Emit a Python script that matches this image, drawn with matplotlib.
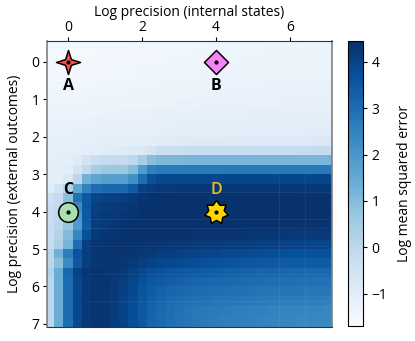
import matplotlib
matplotlib.use("Agg")
import matplotlib.pyplot as plt
from matplotlib.path import Path
import numpy as np

plt.rcParams['font.family'] = ['Open Sans', 'DejaVu Sans']

# log mean squared error, rows go from y=-0.625 to y=7.125, cols from x=-0.5 to x=7
row00 = [-1.62,-1.62,-1.62,-1.62,-1.61,-1.60,-1.60,-1.59,-1.58,-1.57,-1.56,-1.55,-1.54,-1.53,-1.52,-1.51,-1.50,-1.49,-1.48,-1.47,-1.46,-1.45,-1.44,-1.43,-1.42,-1.42,-1.41,-1.41,-1.40,-1.40,-1.40]
row01 = [-1.60,-1.60,-1.60,-1.60,-1.59,-1.58,-1.58,-1.57,-1.56,-1.55,-1.54,-1.53,-1.52,-1.51,-1.50,-1.49,-1.48,-1.47,-1.46,-1.45,-1.44,-1.43,-1.42,-1.41,-1.40,-1.40,-1.39,-1.39,-1.38,-1.38,-1.38]
row02 = [-1.58,-1.58,-1.58,-1.57,-1.57,-1.56,-1.55,-1.54,-1.53,-1.52,-1.51,-1.50,-1.49,-1.48,-1.47,-1.46,-1.45,-1.44,-1.43,-1.42,-1.41,-1.40,-1.40,-1.39,-1.38,-1.38,-1.37,-1.37,-1.36,-1.36,-1.36]
row03 = [-1.56,-1.56,-1.56,-1.55,-1.55,-1.54,-1.53,-1.52,-1.51,-1.50,-1.49,-1.48,-1.47,-1.46,-1.45,-1.44,-1.43,-1.42,-1.41,-1.40,-1.39,-1.38,-1.38,-1.37,-1.36,-1.36,-1.35,-1.35,-1.34,-1.34,-1.34]
row04 = [-1.52,-1.52,-1.52,-1.51,-1.51,-1.50,-1.49,-1.48,-1.47,-1.46,-1.45,-1.44,-1.43,-1.42,-1.41,-1.40,-1.39,-1.38,-1.37,-1.36,-1.35,-1.35,-1.34,-1.33,-1.33,-1.32,-1.32,-1.31,-1.31,-1.30,-1.30]
row05 = [-1.48,-1.48,-1.48,-1.47,-1.47,-1.46,-1.45,-1.44,-1.43,-1.42,-1.41,-1.40,-1.39,-1.38,-1.37,-1.36,-1.35,-1.34,-1.33,-1.32,-1.32,-1.31,-1.30,-1.30,-1.29,-1.29,-1.28,-1.28,-1.27,-1.27,-1.27]
row06 = [-1.44,-1.44,-1.44,-1.43,-1.43,-1.42,-1.41,-1.40,-1.39,-1.38,-1.37,-1.36,-1.35,-1.34,-1.33,-1.32,-1.31,-1.30,-1.29,-1.29,-1.28,-1.27,-1.27,-1.26,-1.26,-1.25,-1.25,-1.24,-1.24,-1.24,-1.24]
row07 = [-1.40,-1.40,-1.40,-1.39,-1.39,-1.38,-1.37,-1.36,-1.35,-1.34,-1.33,-1.32,-1.31,-1.30,-1.29,-1.28,-1.27,-1.26,-1.26,-1.25,-1.24,-1.24,-1.23,-1.23,-1.22,-1.22,-1.21,-1.21,-1.20,-1.20,-1.20]
row08 = [-1.34,-1.34,-1.34,-1.33,-1.33,-1.32,-1.31,-1.30,-1.29,-1.28,-1.27,-1.26,-1.25,-1.24,-1.23,-1.22,-1.21,-1.20,-1.20,-1.19,-1.18,-1.18,-1.17,-1.17,-1.16,-1.16,-1.15,-1.15,-1.14,-1.14,-1.14]
row09 = [-1.28,-1.28,-1.28,-1.27,-1.27,-1.26,-1.25,-1.24,-1.23,-1.22,-1.21,-1.20,-1.19,-1.18,-1.17,-1.16,-1.15,-1.14,-1.14,-1.13,-1.12,-1.12,-1.11,-1.11,-1.10,-1.10,-1.09,-1.09,-1.08,-1.08,-1.08]
row10 = [-1.22,-1.22,-1.22,-1.21,-1.21,-1.20,-1.19,-1.18,-1.17,-1.16,-1.15,-1.14,-1.13,-1.12,-1.11,-1.10,-1.09,-1.08,-1.08,-1.07,-1.06,-1.06,-1.05,-1.05,-1.04,-1.04,-1.03,-1.03,-1.02,-1.02,-1.02]
row11 = [-1.18,-1.18,-1.18,-1.17,-1.16,-1.14,-1.12,-1.10,-1.09,-1.07,-1.05,-1.03,-0.98,-0.96,-0.95,-0.94,-0.93,-0.92,-0.91,-0.90,-0.90,-0.89,-0.89,-0.88,-0.88,-0.87,-0.87,-0.86,-0.86,-0.85,-0.85]
row12 = [-1.15,-1.15,-1.15,-1.13,-1.08,-1.04,-0.98,-0.96,-0.95,-0.92,-0.85,-0.60,-0.36,-0.33,-0.31,-0.30,-0.29,-0.28,-0.27,-0.26,-0.25,-0.24,-0.24,-0.23,-0.23,-0.22,-0.22,-0.21,-0.21,-0.20,-0.20]
row13 = [-1.15,-1.14,-1.10,-0.95,-0.60,-0.35,-0.22,-0.15,-0.20,-0.05,0.45,0.90,1.10,1.12,1.13,1.14,1.14,1.15,1.15,1.15,1.16,1.16,1.16,1.17,1.17,1.17,1.18,1.18,1.18,1.18,1.18]
row14 = [-1.15,-1.10,-1.00,-0.60,-0.10,0.40,0.60,0.65,0.65,0.95,1.85,2.55,2.65,2.66,2.67,2.68,2.68,2.69,2.69,2.70,2.70,2.70,2.71,2.71,2.71,2.72,2.72,2.72,2.72,2.72,2.72]
row15 = [-1.15,-1.10,-0.85,0.05,1.30,1.60,1.75,1.80,1.80,2.15,3.00,3.65,3.85,3.86,3.87,3.88,3.88,3.89,3.89,3.90,3.90,3.90,3.90,3.90,3.90,3.90,3.90,3.90,3.90,3.90,3.90]
row16 = [-1.00,-0.55,0.15,1.60,2.50,3.00,3.10,3.15,3.15,3.45,4.00,4.15,4.22,4.23,4.24,4.25,4.25,4.26,4.26,4.26,4.26,4.26,4.26,4.26,4.26,4.26,4.26,4.26,4.26,4.26,4.26]
row17 = [-0.45,-0.15,0.90,2.90,3.50,3.90,4.00,4.05,4.10,4.20,4.35,4.38,4.38,4.38,4.38,4.38,4.38,4.38,4.38,4.38,4.38,4.38,4.38,4.38,4.38,4.38,4.38,4.36,4.36,4.36,4.36]
row18 = [-0.35,-0.10,0.60,2.30,3.50,4.05,4.15,4.20,4.25,4.30,4.40,4.40,4.40,4.40,4.40,4.40,4.40,4.40,4.40,4.40,4.40,4.40,4.40,4.40,4.40,4.40,4.40,4.40,4.40,4.40,4.40]
row19 = [-0.30,0.00,0.60,2.00,3.50,4.10,4.20,4.25,4.30,4.35,4.40,4.40,4.40,4.40,4.40,4.40,4.40,4.40,4.40,4.40,4.40,4.40,4.40,4.40,4.40,4.40,4.40,4.40,4.40,4.40,4.40]
row20 = [-0.30,0.05,0.75,1.90,3.40,4.10,4.20,4.30,4.35,4.40,4.40,4.40,4.40,4.40,4.40,4.40,4.40,4.40,4.40,4.40,4.40,4.40,4.40,4.38,4.38,4.37,4.37,4.36,4.36,4.35,4.35]
row21 = [-0.30,0.20,1.00,2.40,3.70,4.20,4.30,4.35,4.40,4.40,4.40,4.40,4.38,4.38,4.37,4.36,4.35,4.34,4.33,4.32,4.31,4.30,4.28,4.27,4.26,4.25,4.24,4.23,4.22,4.21,4.20]
row22 = [-0.30,0.30,1.20,3.00,4.10,4.30,4.35,4.40,4.40,4.38,4.35,4.32,4.30,4.28,4.26,4.24,4.22,4.20,4.18,4.16,4.14,4.12,4.10,4.08,4.06,4.04,4.02,4.00,3.98,3.96,3.95]
row23 = [0.10,1.30,2.60,3.60,4.10,4.30,4.35,4.35,4.33,4.30,4.25,4.20,4.15,4.10,4.05,4.00,3.97,3.94,3.90,3.87,3.84,3.81,3.78,3.76,3.74,3.72,3.70,3.68,3.67,3.66,3.65]
row24 = [0.05,0.90,2.30,3.50,4.10,4.30,4.35,4.33,4.28,4.20,4.10,4.00,3.93,3.88,3.82,3.78,3.74,3.70,3.66,3.62,3.58,3.55,3.52,3.50,3.48,3.46,3.44,3.43,3.42,3.41,3.40]
row25 = [0.20,1.40,3.10,4.00,4.30,4.38,4.35,4.30,4.20,4.05,3.85,3.70,3.62,3.55,3.50,3.46,3.42,3.38,3.35,3.32,3.29,3.26,3.23,3.20,3.18,3.16,3.14,3.13,3.12,3.11,3.10]
row26 = [0.00,1.40,3.00,3.85,4.20,4.35,4.33,4.25,4.12,3.92,3.70,3.52,3.42,3.35,3.28,3.23,3.19,3.15,3.12,3.09,3.06,3.04,3.02,3.00,2.98,2.96,2.94,2.93,2.92,2.91,2.90]
row27 = [0.00,1.40,3.00,3.85,4.20,4.35,4.30,4.20,4.05,3.85,3.60,3.40,3.28,3.20,3.12,3.07,3.03,3.00,2.97,2.94,2.91,2.89,2.86,2.84,2.82,2.80,2.78,2.77,2.76,2.75,2.75]
row28 = [0.00,1.40,3.00,3.85,4.20,4.35,4.30,4.18,4.02,3.80,3.55,3.32,3.18,3.08,3.00,2.95,2.90,2.87,2.84,2.81,2.78,2.75,2.72,2.70,2.68,2.66,2.64,2.63,2.62,2.61,2.60]
row29 = [0.00,1.40,3.00,3.85,4.20,4.35,4.30,4.15,4.00,3.75,3.50,3.25,3.10,3.00,2.90,2.82,2.76,2.72,2.68,2.65,2.62,2.59,2.56,2.53,2.50,2.48,2.46,2.44,2.42,2.41,2.40]
row30 = [0.00,1.40,3.00,3.85,4.20,4.35,4.30,4.15,4.00,3.75,3.50,3.22,3.07,2.95,2.86,2.78,2.72,2.67,2.63,2.60,2.57,2.54,2.51,2.48,2.45,2.43,2.41,2.39,2.37,2.36,2.35]
row31 = [0.00,1.40,3.00,3.85,4.20,4.35,4.30,4.15,4.00,3.75,3.50,3.20,3.05,2.93,2.84,2.76,2.70,2.65,2.60,2.56,2.53,2.50,2.47,2.44,2.41,2.39,2.37,2.35,2.33,2.31,2.30]
rows = [row00,row01,row02,row03,row04,row05,row06,row07,row08,row09,row10,row11,row12,row13,row14,row15,
        row16,row17,row18,row19,row20,row21,row22,row23,row24,row25,row26,row27,row28,row29,row30,row31]

# conditions marked on the map
labels = ["A", "B", "C", "D"]
px = [0, 4, 0, 4]
py = [0, 0, 4, 4]
colors = ["#ff4d4d", "#f583f5", "#a8e0b0", "#ffd700"]
label_colors = ["black", "black", "black", "#f0c020"]
label_y = [0.64, 0.64, 3.42, 3.42]

xticks = [0, 2, 4, 6]
yticks = [0, 1, 2, 3, 4, 5, 6, 7]
cticks = [-1, 0, 1, 2, 3, 4]

# faint seams between image tiles in the original
seam_y = [3.47, 4.2, 4.45, 4.93, 5.66, 6.38]
seam_x = [5.7, 6.4]

W, H = 415, 341
fig = plt.figure(figsize=(W / 100, H / 100), dpi=100)
ax = fig.add_axes([47 / W, 1 - 327 / H, 284.5 / W, 286 / H])
cax = fig.add_axes([348 / W, 1 - 326 / H, 15 / W, 285 / H])

im = ax.imshow(np.array(rows), cmap="Blues", vmin=-1.7, vmax=4.45, aspect="auto",
               extent=[-0.625, 7.125, 7.25, -0.75], interpolation="nearest")
ax.set_xlim(-0.57, 7.12)
ax.set_ylim(7.085, -0.56)

for s in seam_y:
    ax.plot([0.5, 7.12], [s, s], color="white", alpha=0.06, lw=0.7, zorder=2)
for s in seam_x:
    ax.plot([s, s], [3.0, 7.085], color="white", alpha=0.06, lw=0.7, zorder=2)

ax.xaxis.tick_top()
ax.xaxis.set_label_position("top")
ax.set_xticks(xticks)
ax.set_yticks(yticks)
ax.set_xlabel("Log precision (internal states)", fontsize=10, labelpad=3.5)
ax.set_ylabel("Log precision (external outcomes)", fontsize=10, labelpad=7)
ax.tick_params(labelsize=10, length=3, width=0.8, pad=2.5)
ax.tick_params(axis="x", pad=1)

star4 = Path.unit_regular_star(4, innerCircle=0.34)
star7 = Path.unit_regular_star(7, innerCircle=0.66)
shapes = [star4, "D", "o", star7]
sizes = [300, 150, 200, 300]
for i in range(4):
    ax.scatter(px[i], py[i], marker=shapes[i], s=sizes[i], c=colors[i], edgecolors="black", linewidths=1.1, zorder=3)
    ax.scatter(px[i], py[i], marker="o", s=4, c="black", zorder=4)
    ax.text(px[i], label_y[i], labels[i], color=label_colors[i], fontsize=11.5, fontweight="bold" if i < 3 else "semibold",
            ha="center", va="center", zorder=4)

cb = fig.colorbar(im, cax=cax)
cb.set_ticks(cticks)
cb.ax.tick_params(labelsize=10, length=3, width=0.8, pad=3)
cb.set_label("Log mean squared error", fontsize=10, labelpad=7)

for a in [ax, cax]:
    a.spines["left"].set_color("#808080")
    a.spines["right"].set_color("#808080")
    a.spines["left"].set_linewidth(1.2)
    a.spines["right"].set_linewidth(1.2)
    a.spines["top"].set_color("#333333")
    a.spines["bottom"].set_color("#333333")

fig.savefig("out.png", dpi=100)
